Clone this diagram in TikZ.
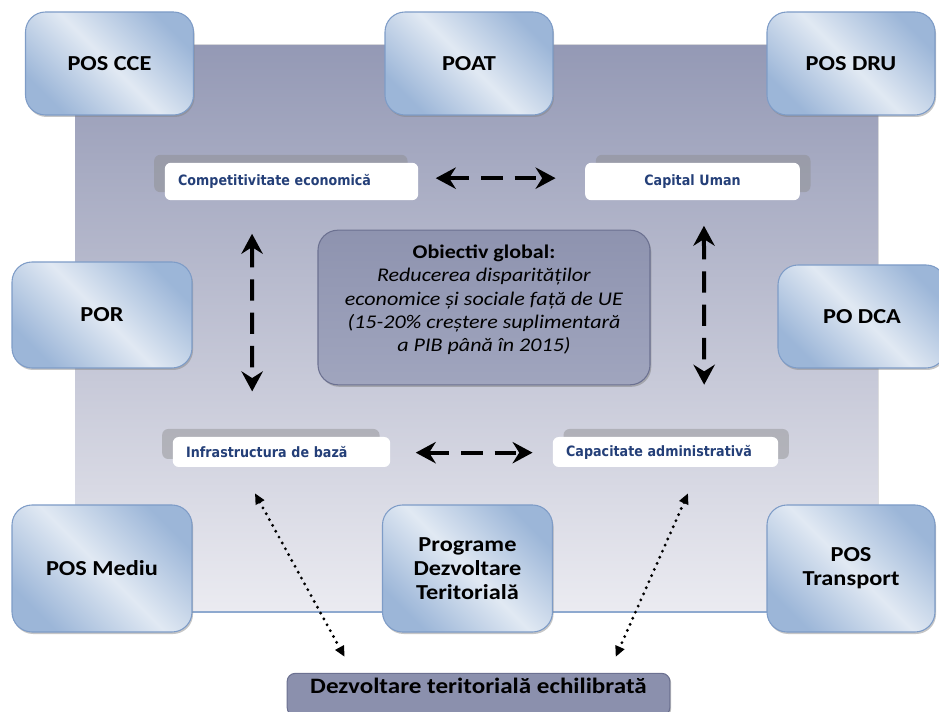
\documentclass[tikz,border=0pt]{standalone}
\usepackage{fontspec}
\setmainfont{Carlito}[FakeStretch=1.14]
\newfontfamily\axisfont{DejaVu Sans}[FakeStretch=0.89]
\usetikzlibrary{arrows.meta,shadows}
\definecolor{bgtop}{HTML}{9499B5}
\definecolor{bgbot}{HTML}{EBEBF1}
\definecolor{bgline}{HTML}{8EA9CF}
\definecolor{progblue}{HTML}{9CB6D8}
\definecolor{proglight}{HTML}{E1E9F3}
\definecolor{progline}{HTML}{7E9CC7}
\definecolor{globtop}{HTML}{8E93AF}
\definecolor{globbot}{HTML}{A0A5BE}
\definecolor{globline}{HTML}{6C7191}
\definecolor{axisblue}{HTML}{243F78}
\definecolor{devfill}{HTML}{8B90AD}

\begin{document}
\begin{tikzpicture}[x=0.75pt,y=-0.75pt,
  prog/.style={draw=progline,line width=0.8pt,rounded corners=15pt,
    top color=progblue,bottom color=progblue,middle color=proglight,shading angle=-45,
    align=center,font=\bfseries\fontsize{16}{18}\selectfont,
    drop shadow={shadow xshift=0.8pt,shadow yshift=-1.5pt,opacity=0.45}},
  axis/.style={fill=white,rounded corners=4.5pt,inner xsep=10pt,inner ysep=0pt,
    font=\axisfont\bfseries\fontsize{10.7}{12}\selectfont,text=axisblue,
    copy shadow={shadow xshift=#1,shadow yshift=6pt,draw=none,fill=black!45,opacity=0.45}},
  glob/.style={draw=globline,line width=0.8pt,rounded corners=15pt,
    top color=globtop,bottom color=globbot,align=center,
    font=\fontsize{14.5}{17.5}\selectfont,
    drop shadow={shadow xshift=1pt,shadow yshift=-1.5pt,opacity=0.5}},
  link/.style={line width=3pt,dash pattern=on 16pt off 9pt,
    {Stealth[length=15pt,width=16pt,inset=5pt]}-{Stealth[length=15pt,width=16pt,inset=5pt]}},
  dots/.style={line width=2.4pt,dash pattern=on 0pt off 5pt,line cap=round,
    {Triangle[length=8pt,width=7pt]}-{Triangle[length=8pt,width=7pt]}}]
\useasboundingbox (0,0) rectangle (939,712);
\fill[top color=bgtop,bottom color=bgbot,rounded corners=30pt] (75,45) rectangle (878,612);
\draw[bgline,line width=2.2pt] (75,612) -- (878,612);

\node[axis=-8pt,text width=170pt,align=left,minimum height=28pt] (comp) at (291.5,181.5) {Competitivitate economică};
\node[axis=8pt,text width=141pt,align=center,minimum height=28pt] (cap) at (692.5,181.5) {Capital Uman};
\node[axis=-8pt,text width=143pt,align=left,minimum height=22.5pt] (infra) at (281.5,452) {Infrastructura de bază};
\node[axis=8pt,text width=149pt,align=left,minimum height=22.5pt] (adm) at (665.5,452) {Capacitate administrativă};

\node[glob,minimum width=249pt,minimum height=116pt] (goal) at (484,307.5)
  {\textbf{Obiectiv global:}\\ \textit{Reducerea disparităților}\\ \textit{economice și sociale față de UE}\\
   \textit{(15-20\% creștere suplimentară}\\ \textit{a PIB până în 2015)}\\[-4pt]\mbox{}};

\draw[link] ([shift={(13pt,2.5pt)}]comp.east) -- ([shift={(-22pt,2.5pt)}]cap.west);
\draw[link] ([shift={(19pt,-0.5pt)}]infra.east) -- ([shift={(-15pt,-0.5pt)}]adm.west);
\draw[link] ([shift={(-29.6pt,-25pt)}]comp.south) -- ([shift={(-22pt,34pt)}]infra.north);
\draw[link] ([shift={(8.6pt,-19pt)}]cap.south) -- ([shift={(29pt,39pt)}]adm.north);

\node[prog,minimum width=126pt,minimum height=77.25pt] (cce) at (109.5,63.5) {POS CCE};
\node[prog,minimum width=126pt,minimum height=77.25pt] (poat) at (469,63.5) {POAT};
\node[prog,minimum width=126pt,minimum height=77.25pt] (dru) at (851,63.5) {POS DRU};
\node[prog,minimum width=135pt,minimum height=79.5pt] (por) at (102,315) {POR};
\node[prog,minimum width=126pt,minimum height=77.25pt] (dca) at (862,316.5) {PO DCA};
\node[prog,minimum width=135pt,minimum height=95.25pt] (mediu) at (102,568.5) {POS Mediu};
\node[prog,minimum width=127.5pt,minimum height=95.25pt] (pdt) at (467.5,568.5) {Programe\\Dezvoltare\\Teritorială};
\node[prog,minimum width=126pt,minimum height=95.25pt] (trans) at (851,568.5) {POS\\Transport};

\node[draw=globline,line width=0.8pt,fill=devfill,rounded corners=6pt,minimum width=287pt,minimum height=31pt,
  text height=12pt,text depth=13pt,font=\bfseries\fontsize{16.5}{18}\selectfont,
  drop shadow={shadow xshift=1pt,shadow yshift=-1pt,opacity=0.5}] (dtb) at (478.5,694.5) {Dezvoltare teritorială echilibrată};

\draw[dots] ([shift={(-19.9pt,-19.5pt)}]infra.south) -- ([shift={(43.5pt,12pt)}]dtb.north west);
\draw[dots] ([shift={(16.9pt,-19.5pt)}]adm.south) -- ([shift={(-41pt,12pt)}]dtb.north east);
\end{tikzpicture}
\end{document}
